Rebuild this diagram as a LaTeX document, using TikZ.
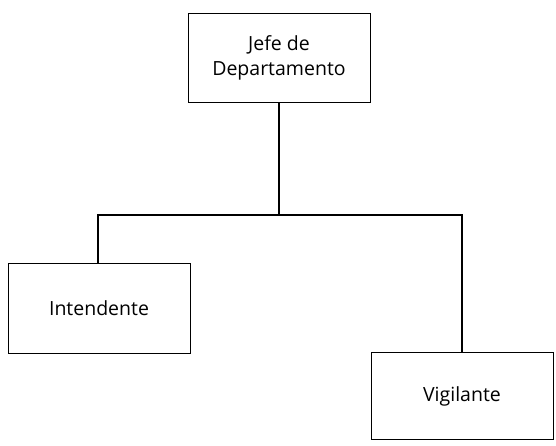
\documentclass[tikz,border=0pt]{standalone}
\usepackage{fontspec}
\setmainfont{Open Sans}
\begin{document}
\begin{tikzpicture}[x=1pt,y=-1pt,
  orgbox/.style={draw=black, line width=1pt, minimum height=#1, align=center, inner sep=0pt, font=\fontsize{19.5}{25}\selectfont},
  link/.style={draw=black, line width=2pt}]
\useasboundingbox (0,0) rectangle (556,445);
\node[orgbox=89pt, minimum width=182pt] (jefe) at (279,57.5) {Jefe de\\Departamento};
\node[orgbox=90pt, minimum width=182pt] (intendente) at (99,308) {Intendente};
\node[orgbox=87pt, minimum width=182pt] (vigilante) at (462,396) {Vigilante};
\coordinate (junction) at (jefe.south |- 0,215);
\draw[link] (jefe.south) -- (junction);
\draw[link] (intendente.north -| 98,0) |- (junction) -| (vigilante.north);
\end{tikzpicture}
\end{document}
